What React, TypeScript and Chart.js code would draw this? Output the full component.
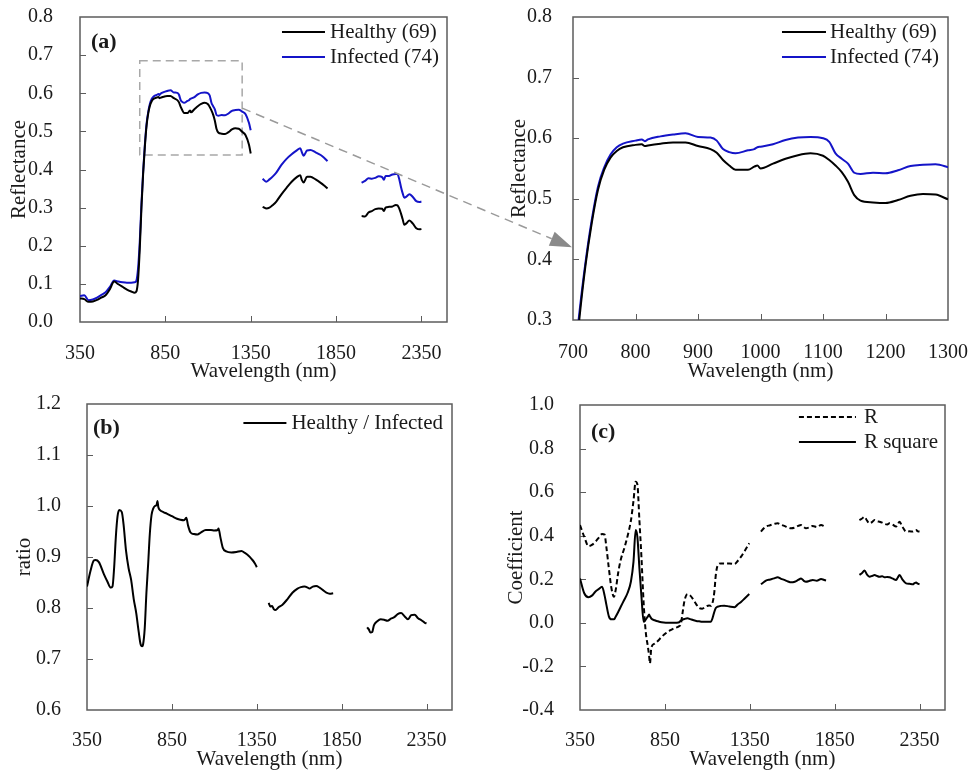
import React, { useEffect, useRef } from "react";
import { Chart, registerables } from "chart.js";
Chart.register(...registerables);

const SERIF = "'Liberation Serif', 'Times New Roman', serif";
const TEXT = "#1a1a1a";
const FRAME = "#5c5c5c";
const BLUE = "#1414c8";
const BLACK = "#000000";

// ---------- Panel (a) + zoom: mean reflectance ----------
const WL_SEG1 = [350, 375, 400, 425, 450, 475, 500, 525, 550, 575, 600, 625, 650, 670, 680, 690, 700, 710, 720, 730, 740, 750, 760, 770, 780, 800, 810, 815, 820, 840, 860, 880, 900, 920, 930, 940, 950, 960, 980, 990, 995, 1000, 1020, 1040, 1060, 1080, 1100, 1110, 1120, 1130, 1140, 1150, 1160, 1180, 1200, 1220, 1240, 1260, 1280, 1300, 1320, 1340, 1350];
const HEALTHY_SEG1 = [0.062, 0.060, 0.053, 0.054, 0.058, 0.064, 0.070, 0.086, 0.106, 0.099, 0.092, 0.085, 0.080, 0.077, 0.080, 0.110, 0.190, 0.300, 0.390, 0.460, 0.515, 0.548, 0.568, 0.579, 0.585, 0.589, 0.590, 0.587, 0.588, 0.591, 0.593, 0.593, 0.587, 0.582, 0.576, 0.564, 0.555, 0.548, 0.548, 0.553, 0.555, 0.550, 0.558, 0.566, 0.572, 0.575, 0.571, 0.564, 0.555, 0.544, 0.528, 0.506, 0.497, 0.494, 0.493, 0.498, 0.505, 0.508, 0.507, 0.499, 0.490, 0.465, 0.442];
const INFECTED_SEG1 = [0.068, 0.070, 0.057, 0.059, 0.064, 0.071, 0.078, 0.092, 0.109, 0.106, 0.104, 0.103, 0.103, 0.104, 0.108, 0.140, 0.210, 0.310, 0.395, 0.465, 0.520, 0.552, 0.573, 0.585, 0.591, 0.596, 0.598, 0.595, 0.598, 0.603, 0.606, 0.608, 0.602, 0.601, 0.596, 0.582, 0.577, 0.575, 0.580, 0.582, 0.585, 0.586, 0.590, 0.597, 0.601, 0.602, 0.600, 0.594, 0.575, 0.566, 0.558, 0.543, 0.541, 0.543, 0.542, 0.547, 0.554, 0.556, 0.557, 0.552, 0.545, 0.522, 0.503];

const WL_SEG2 = [1420, 1440, 1460, 1480, 1500, 1530, 1560, 1590, 1620, 1640, 1650, 1660, 1680, 1700, 1730, 1760, 1780, 1800];
const HEALTHY_SEG2 = [0.302, 0.298, 0.300, 0.307, 0.316, 0.335, 0.352, 0.368, 0.380, 0.385, 0.372, 0.366, 0.381, 0.381, 0.374, 0.365, 0.358, 0.350];
const INFECTED_SEG2 = [0.376, 0.368, 0.374, 0.382, 0.392, 0.412, 0.428, 0.440, 0.450, 0.456, 0.445, 0.436, 0.450, 0.451, 0.445, 0.438, 0.431, 0.422];

const WL_SEG3 = [2000, 2020, 2040, 2060, 2080, 2100, 2120, 2130, 2140, 2160, 2180, 2200, 2210, 2220, 2230, 2240, 2250, 2260, 2280, 2300, 2320, 2340, 2350];
const HEALTHY_SEG3 = [0.278, 0.277, 0.287, 0.291, 0.296, 0.298, 0.297, 0.291, 0.300, 0.302, 0.303, 0.307, 0.306, 0.298, 0.285, 0.270, 0.255, 0.258, 0.266, 0.258, 0.246, 0.243, 0.244];
const INFECTED_SEG3 = [0.365, 0.370, 0.377, 0.376, 0.378, 0.382, 0.380, 0.373, 0.383, 0.383, 0.387, 0.388, 0.388, 0.375, 0.355, 0.338, 0.326, 0.328, 0.335, 0.328, 0.317, 0.315, 0.316];

// ---------- Panel (b): ratio ----------
const RATIO_WL1 = [350, 370, 390, 400, 420, 450, 470, 490, 500, 510, 520, 530, 540, 555, 565, 580, 595, 610, 625, 640, 655, 665, 675, 680, 690, 700, 710, 720, 730, 740, 750, 760, 765, 770, 780, 800, 820, 850, 880, 900, 920, 930, 935, 945, 960, 980, 1000, 1020, 1050, 1080, 1100, 1120, 1125, 1135, 1150, 1170, 1200, 1230, 1260, 1280, 1300, 1320, 1340, 1350];
const RATIO_V1 = [0.842, 0.872, 0.893, 0.894, 0.890, 0.866, 0.852, 0.840, 0.842, 0.880, 0.940, 0.980, 0.992, 0.988, 0.965, 0.912, 0.878, 0.855, 0.818, 0.790, 0.752, 0.730, 0.725, 0.728, 0.760, 0.830, 0.885, 0.945, 0.982, 0.995, 1.000, 1.002, 1.010, 0.998, 0.992, 0.988, 0.985, 0.980, 0.975, 0.973, 0.972, 0.975, 0.977, 0.962, 0.948, 0.945, 0.944, 0.948, 0.953, 0.953, 0.952, 0.953, 0.956, 0.940, 0.918, 0.911, 0.909, 0.910, 0.912, 0.908, 0.903, 0.896, 0.887, 0.880];
const RATIO_WL2 = [1420, 1430, 1440, 1450, 1460, 1480, 1500, 1530, 1560, 1590, 1610, 1630, 1650, 1660, 1680, 1700, 1720, 1740, 1760, 1780, 1800];
const RATIO_V2 = [0.810, 0.803, 0.804, 0.798, 0.796, 0.802, 0.806, 0.817, 0.830, 0.838, 0.841, 0.842, 0.840, 0.838, 0.842, 0.843, 0.840, 0.835, 0.830, 0.828, 0.829];
const RATIO_WL3 = [2000, 2010, 2020, 2030, 2040, 2060, 2080, 2100, 2120, 2140, 2160, 2180, 2200, 2220, 2240, 2260, 2280, 2300, 2320, 2340, 2350];
const RATIO_V3 = [0.762, 0.758, 0.752, 0.753, 0.766, 0.774, 0.778, 0.777, 0.775, 0.779, 0.782, 0.788, 0.790, 0.784, 0.778, 0.786, 0.787, 0.780, 0.776, 0.771, 0.770];

// ---------- Panel (c): coefficients ----------
const COEF_WL1 = [350, 375, 400, 420, 440, 460, 480, 495, 505, 520, 535, 550, 560, 575, 590, 610, 630, 650, 665, 678, 688, 700, 712, 725, 737, 750, 757, 762, 770, 790, 810, 830, 855, 880, 905, 930, 944, 955, 965, 983, 1000, 1015, 1035, 1052, 1070, 1090, 1110, 1121, 1130, 1141, 1150, 1160, 1180, 1200, 1230, 1260, 1280, 1300, 1320, 1347];
const R_V1 = [0.449, 0.395, 0.352, 0.358, 0.372, 0.390, 0.408, 0.405, 0.350, 0.250, 0.160, 0.120, 0.150, 0.230, 0.290, 0.340, 0.398, 0.470, 0.560, 0.648, 0.635, 0.470, 0.300, 0.090, -0.040, -0.110, -0.150, -0.186, -0.115, -0.095, -0.082, -0.065, -0.048, -0.035, -0.025, -0.017, -0.005, 0.050, 0.100, 0.132, 0.125, 0.110, 0.085, 0.068, 0.065, 0.074, 0.080, 0.078, 0.090, 0.140, 0.220, 0.262, 0.273, 0.272, 0.273, 0.270, 0.285, 0.305, 0.330, 0.365];
const R2_V1 = [0.204, 0.136, 0.118, 0.125, 0.143, 0.155, 0.166, 0.125, 0.085, 0.030, 0.016, 0.016, 0.028, 0.050, 0.074, 0.105, 0.137, 0.190, 0.280, 0.426, 0.395, 0.250, 0.120, 0.005, 0.015, 0.030, 0.038, 0.030, 0.020, 0.012, 0.007, 0.003, 0.001, 0.001, 0.001, 0.002, 0.010, 0.015, 0.018, 0.021, 0.017, 0.013, 0.009, 0.007, 0.005, 0.005, 0.005, 0.005, 0.020, 0.050, 0.068, 0.074, 0.078, 0.079, 0.075, 0.072, 0.085, 0.097, 0.112, 0.132];
const COEF_WL2 = [1416, 1430, 1445, 1470, 1494, 1514, 1535, 1553, 1575, 1593, 1615, 1635, 1652, 1668, 1681, 1700, 1721, 1745, 1770, 1785, 1799];
const R_V2 = [0.419, 0.432, 0.442, 0.448, 0.454, 0.457, 0.450, 0.445, 0.438, 0.434, 0.437, 0.445, 0.449, 0.440, 0.434, 0.438, 0.445, 0.440, 0.449, 0.445, 0.438];
const R2_V2 = [0.177, 0.185, 0.194, 0.199, 0.204, 0.209, 0.202, 0.197, 0.190, 0.186, 0.189, 0.197, 0.204, 0.193, 0.189, 0.192, 0.197, 0.193, 0.201, 0.198, 0.194];
const COEF_WL3 = [1996, 2010, 2026, 2040, 2055, 2070, 2085, 2100, 2114, 2130, 2144, 2160, 2173, 2190, 2212, 2222, 2232, 2250, 2271, 2290, 2311, 2320, 2330, 2340, 2350];
const R_V3 = [0.472, 0.478, 0.487, 0.470, 0.457, 0.462, 0.472, 0.466, 0.464, 0.460, 0.454, 0.452, 0.457, 0.452, 0.442, 0.452, 0.464, 0.440, 0.419, 0.420, 0.419, 0.424, 0.426, 0.420, 0.419];
const R2_V3 = [0.220, 0.228, 0.240, 0.222, 0.212, 0.215, 0.220, 0.215, 0.212, 0.214, 0.209, 0.211, 0.209, 0.204, 0.197, 0.208, 0.220, 0.198, 0.181, 0.179, 0.177, 0.182, 0.185, 0.180, 0.177];

// ---------- ticks ----------
const X_TICKS_FULL = [350, 850, 1350, 1850, 2350];
const X_TICKS_ZOOM = [700, 800, 900, 1000, 1100, 1200, 1300];
const Y_TICKS_A = [0, 0.1, 0.2, 0.3, 0.4, 0.5, 0.6, 0.7, 0.8];
const Y_TICKS_ZOOM = [0.3, 0.4, 0.5, 0.6, 0.7, 0.8];
const Y_TICKS_B = [0.6, 0.7, 0.8, 0.9, 1.0, 1.1, 1.2];
const Y_TICKS_C = [-0.4, -0.2, 0, 0.2, 0.4, 0.6, 0.8, 1.0];

// zoom region (dashed box in panel a) and arrow anchor values
const BOX_WL = [700, 1300];
const BOX_R = [0.438, 0.685];
const ARROW_FROM_R = 0.561;
const ARROW_TO_R = 0.42;

type Pt = { x: number; y: number | null };
function seg(wl: number[], v: number[]): Pt[] {
  return wl.map((x, i) => ({ x, y: v[i] }));
}
function joinSegs(...segs: Pt[][]): Pt[] {
  const out: Pt[] = [];
  segs.forEach((s, i) => {
    if (i > 0) out.push({ x: (out[out.length - 1].x + s[0].x) / 2, y: null });
    out.push(...s);
  });
  return out;
}

type Geom = { left: number; top: number; width: number; height: number; cl: number; ct: number; cr: number; cb: number };

const G_A: Geom = { left: 0, top: 0, width: 484, height: 385, cl: 80, ct: 17, cr: 447, cb: 322 };
const G_Z: Geom = { left: 484, top: 0, width: 484, height: 385, cl: 573, ct: 17, cr: 948, cb: 320 };
const G_B: Geom = { left: 0, top: 385, width: 484, height: 388, cl: 87, ct: 404, cr: 452, cb: 710 };
const G_C: Geom = { left: 484, top: 385, width: 484, height: 388, cl: 580, ct: 405, cr: 945, cb: 710 };

type Spec = {
  datasets: any[];
  xMin: number; xMax: number; xTicks: number[];
  yMin: number; yMax: number; yTicks: number[];
  yTitle: string;
  yTickPad: number; xTickPad: number; yTitlePad: number; xTitlePad: number;
  label?: { text: string; dx: number; dy: number };
  legend: { rows: number[]; lineLen: number; gap: number; inset: number };
  box?: boolean;
};

function makeDeco(spec: Spec) {
  return {
    id: "deco",
    beforeDatasetsDraw(chart: any) {
      const { ctx, chartArea: a, scales } = chart;
      ctx.save();
      ctx.strokeStyle = FRAME;
      ctx.lineWidth = 1;
      ctx.beginPath();
      scales.x.ticks.forEach((t: any) => {
        const px = Math.round(scales.x.getPixelForValue(t.value)) + 0.5;
        if (px > a.left + 2 && px < a.right - 2) {
          ctx.moveTo(px, a.bottom);
          ctx.lineTo(px, a.bottom - 6);
        }
      });
      scales.y.ticks.forEach((t: any) => {
        const py = Math.round(scales.y.getPixelForValue(t.value)) + 0.5;
        if (py > a.top + 2 && py < a.bottom - 2) {
          ctx.moveTo(a.left, py);
          ctx.lineTo(a.left + 6, py);
        }
      });
      ctx.stroke();
      ctx.lineWidth = 1.5;
      ctx.strokeRect(a.left, a.top, a.right - a.left, a.bottom - a.top);
      if (spec.box) {
        const x1 = scales.x.getPixelForValue(BOX_WL[0]);
        const x2 = scales.x.getPixelForValue(BOX_WL[1]);
        const y1 = scales.y.getPixelForValue(BOX_R[1]);
        const y2 = scales.y.getPixelForValue(BOX_R[0]);
        ctx.strokeStyle = "#a8a8a8";
        ctx.lineWidth = 1.5;
        ctx.setLineDash([8, 5]);
        ctx.strokeRect(x1, y1, x2 - x1, y2 - y1);
      }
      ctx.restore();
    },
    afterDraw(chart: any) {
      const { ctx, chartArea: a } = chart;
      ctx.save();
      if (spec.label) {
        ctx.font = `bold 22px ${SERIF}`;
        ctx.fillStyle = TEXT;
        ctx.textBaseline = "middle";
        ctx.textAlign = "left";
        ctx.fillText(spec.label.text, a.left + spec.label.dx, a.top + spec.label.dy);
      }
      ctx.font = `21px ${SERIF}`;
      const ds = chart.data.datasets;
      let maxW = 0;
      ds.forEach((d: any) => { maxW = Math.max(maxW, ctx.measureText(d.label).width); });
      const tx = a.right - spec.legend.inset - maxW;
      ds.forEach((d: any, i: number) => {
        const y = a.top + spec.legend.rows[i];
        ctx.strokeStyle = d.borderColor;
        ctx.lineWidth = 2;
        ctx.setLineDash(d.borderDash || []);
        ctx.beginPath();
        ctx.moveTo(tx - spec.legend.gap - spec.legend.lineLen, y);
        ctx.lineTo(tx - spec.legend.gap, y);
        ctx.stroke();
        ctx.setLineDash([]);
        ctx.fillStyle = TEXT;
        ctx.textAlign = "left";
        ctx.textBaseline = "middle";
        ctx.fillText(d.label, tx, y);
      });
      ctx.restore();
    },
  };
}

function makeChart(canvas: HTMLCanvasElement, g: Geom, spec: Spec) {
  return new Chart(canvas, {
    type: "line",
    data: { datasets: spec.datasets },
    plugins: [makeDeco(spec)],
    options: {
      responsive: false,
      animation: false,
      devicePixelRatio: 1,
      layout: { padding: { left: 0, top: g.ct - g.top, right: g.left + g.width - g.cr, bottom: 0 } },
      plugins: { legend: { display: false }, tooltip: { enabled: false } },
      elements: { point: { radius: 0 }, line: { borderWidth: 2, cubicInterpolationMode: "monotone" } },
      scales: {
        x: {
          type: "linear",
          min: spec.xMin,
          max: spec.xMax,
          grid: { display: false, drawTicks: false },
          border: { display: false },
          afterBuildTicks: (s: any) => { s.ticks = spec.xTicks.map((value) => ({ value })); },
          afterFit: (s: any) => { s.height = g.top + g.height - g.cb; s.paddingLeft = 0; s.paddingRight = 0; },
          ticks: {
            padding: spec.xTickPad, color: TEXT, autoSkip: false, maxRotation: 0,
            font: { family: SERIF, size: 20 },
            callback: (v: any) => String(v),
          },
          title: {
            display: true, text: "Wavelength (nm)", color: TEXT,
            font: { family: SERIF, size: 21, lineHeight: 1 },
            padding: { top: 0, bottom: spec.xTitlePad },
          },
        },
        y: {
          type: "linear",
          min: spec.yMin,
          max: spec.yMax,
          grid: { display: false, drawTicks: false },
          border: { display: false },
          afterBuildTicks: (s: any) => { s.ticks = spec.yTicks.map((value) => ({ value })); },
          afterFit: (s: any) => { s.width = g.cl - g.left; s.paddingTop = 0; s.paddingBottom = 0; },
          ticks: {
            padding: spec.yTickPad, color: TEXT, autoSkip: false,
            font: { family: SERIF, size: 20 },
            callback: (v: any) => Number(v).toFixed(1),
          },
          title: {
            display: true, text: spec.yTitle, color: TEXT,
            font: { family: SERIF, size: 21, lineHeight: 1 },
            padding: { top: spec.yTitlePad, bottom: 0 },
          },
        },
      },
    } as any,
  });
}

export default function App() {
  const refA = useRef<HTMLCanvasElement>(null);
  const refZ = useRef<HTMLCanvasElement>(null);
  const refB = useRef<HTMLCanvasElement>(null);
  const refC = useRef<HTMLCanvasElement>(null);
  const refO = useRef<HTMLCanvasElement>(null);

  useEffect(() => {
    const healthy = joinSegs(seg(WL_SEG1, HEALTHY_SEG1), seg(WL_SEG2, HEALTHY_SEG2), seg(WL_SEG3, HEALTHY_SEG3));
    const infected = joinSegs(seg(WL_SEG1, INFECTED_SEG1), seg(WL_SEG2, INFECTED_SEG2), seg(WL_SEG3, INFECTED_SEG3));
    const reflDatasets = () => [
      { label: "Healthy (69)", data: healthy, borderColor: BLACK, borderWidth: 2, spanGaps: false },
      { label: "Infected (74)", data: infected, borderColor: BLUE, borderWidth: 2, spanGaps: false },
    ];

    const chartA = makeChart(refA.current!, G_A, {
      datasets: reflDatasets(),
      xMin: 350, xMax: 2500, xTicks: X_TICKS_FULL,
      yMin: 0, yMax: 0.8, yTicks: Y_TICKS_A,
      yTitle: "Reflectance",
      yTickPad: 27, xTickPad: 20, yTitlePad: 9, xTitlePad: 3,
      label: { text: "(a)", dx: 11, dy: 25 },
      legend: { rows: [15, 40], lineLen: 43, gap: 5, inset: 8 },
      box: true,
    });
    const chartZ = makeChart(refZ.current!, G_Z, {
      datasets: reflDatasets(),
      xMin: 700, xMax: 1300, xTicks: X_TICKS_ZOOM,
      yMin: 0.3, yMax: 0.8, yTicks: Y_TICKS_ZOOM,
      yTitle: "Reflectance",
      yTickPad: 21, xTickPad: 21, yTitlePad: 25, xTitlePad: 3,
      legend: { rows: [15, 40], lineLen: 44, gap: 4, inset: 9 },
    });
    const chartB = makeChart(refB.current!, G_B, {
      datasets: [
        { label: "Healthy / Infected", data: joinSegs(seg(RATIO_WL1, RATIO_V1), seg(RATIO_WL2, RATIO_V2), seg(RATIO_WL3, RATIO_V3)), borderColor: BLACK, borderWidth: 2, spanGaps: false },
      ],
      xMin: 350, xMax: 2500, xTicks: X_TICKS_FULL,
      yMin: 0.6, yMax: 1.2, yTicks: Y_TICKS_B,
      yTitle: "ratio",
      yTickPad: 26, xTickPad: 19, yTitlePad: 14, xTitlePad: 3,
      label: { text: "(b)", dx: 6, dy: 24 },
      legend: { rows: [19], lineLen: 43, gap: 5, inset: 9 },
    });
    const chartC = makeChart(refC.current!, G_C, {
      datasets: [
        { label: "R", data: joinSegs(seg(COEF_WL1, R_V1), seg(COEF_WL2, R_V2), seg(COEF_WL3, R_V3)), borderColor: BLACK, borderWidth: 2, borderDash: [5, 3], spanGaps: false },
        { label: "R square", data: joinSegs(seg(COEF_WL1, R2_V1), seg(COEF_WL2, R2_V2), seg(COEF_WL3, R2_V3)), borderColor: BLACK, borderWidth: 2, spanGaps: false },
      ],
      xMin: 350, xMax: 2500, xTicks: X_TICKS_FULL,
      yMin: -0.4, yMax: 1.0, yTicks: Y_TICKS_C,
      yTitle: "Coefficient",
      yTickPad: 26, xTickPad: 19, yTitlePad: 22, xTitlePad: 3,
      label: { text: "(c)", dx: 11, dy: 27 },
      legend: { rows: [12, 37], lineLen: 57, gap: 8, inset: 7 },
    });

    // connector arrow between the zoom box in (a) and the zoomed panel
    const o = refO.current!;
    const ctx = o.getContext("2d")!;
    ctx.clearRect(0, 0, o.width, o.height);
    const x0 = G_A.left + chartA.scales.x.getPixelForValue(BOX_WL[1]);
    const y0 = G_A.top + chartA.scales.y.getPixelForValue(ARROW_FROM_R);
    const x1 = G_Z.left + chartZ.scales.x.getPixelForValue(BOX_WL[0]) - 1;
    const y1 = G_Z.top + chartZ.scales.y.getPixelForValue(ARROW_TO_R);
    const ang = Math.atan2(y1 - y0, x1 - x0);
    const headLen = 22, headHalf = 7.5;
    const bx = x1 - headLen * Math.cos(ang), by = y1 - headLen * Math.sin(ang);
    ctx.save();
    ctx.strokeStyle = "#9a9a9a";
    ctx.lineWidth = 1.5;
    ctx.setLineDash([9, 6]);
    ctx.beginPath();
    ctx.moveTo(x0, y0);
    ctx.lineTo(bx, by);
    ctx.stroke();
    ctx.setLineDash([]);
    ctx.fillStyle = "#8a8a8a";
    ctx.beginPath();
    ctx.moveTo(x1, y1);
    ctx.lineTo(bx + headHalf * Math.sin(ang), by - headHalf * Math.cos(ang));
    ctx.lineTo(bx - headHalf * Math.sin(ang), by + headHalf * Math.cos(ang));
    ctx.closePath();
    ctx.fill();
    ctx.restore();

    return () => {
      chartA.destroy();
      chartZ.destroy();
      chartB.destroy();
      chartC.destroy();
    };
  }, []);

  const cs = (g: Geom): React.CSSProperties => ({ position: "absolute", left: g.left, top: g.top, width: g.width, height: g.height });
  return (
    <div style={{ position: "absolute", left: 0, top: 0, width: 968, height: 773, background: "#fff", overflow: "hidden" }}>
      <canvas ref={refA} width={G_A.width} height={G_A.height} style={cs(G_A)} />
      <canvas ref={refZ} width={G_Z.width} height={G_Z.height} style={cs(G_Z)} />
      <canvas ref={refB} width={G_B.width} height={G_B.height} style={cs(G_B)} />
      <canvas ref={refC} width={G_C.width} height={G_C.height} style={cs(G_C)} />
      <canvas ref={refO} width={968} height={773} style={{ position: "absolute", left: 0, top: 0, width: 968, height: 773, pointerEvents: "none" }} />
    </div>
  );
}
